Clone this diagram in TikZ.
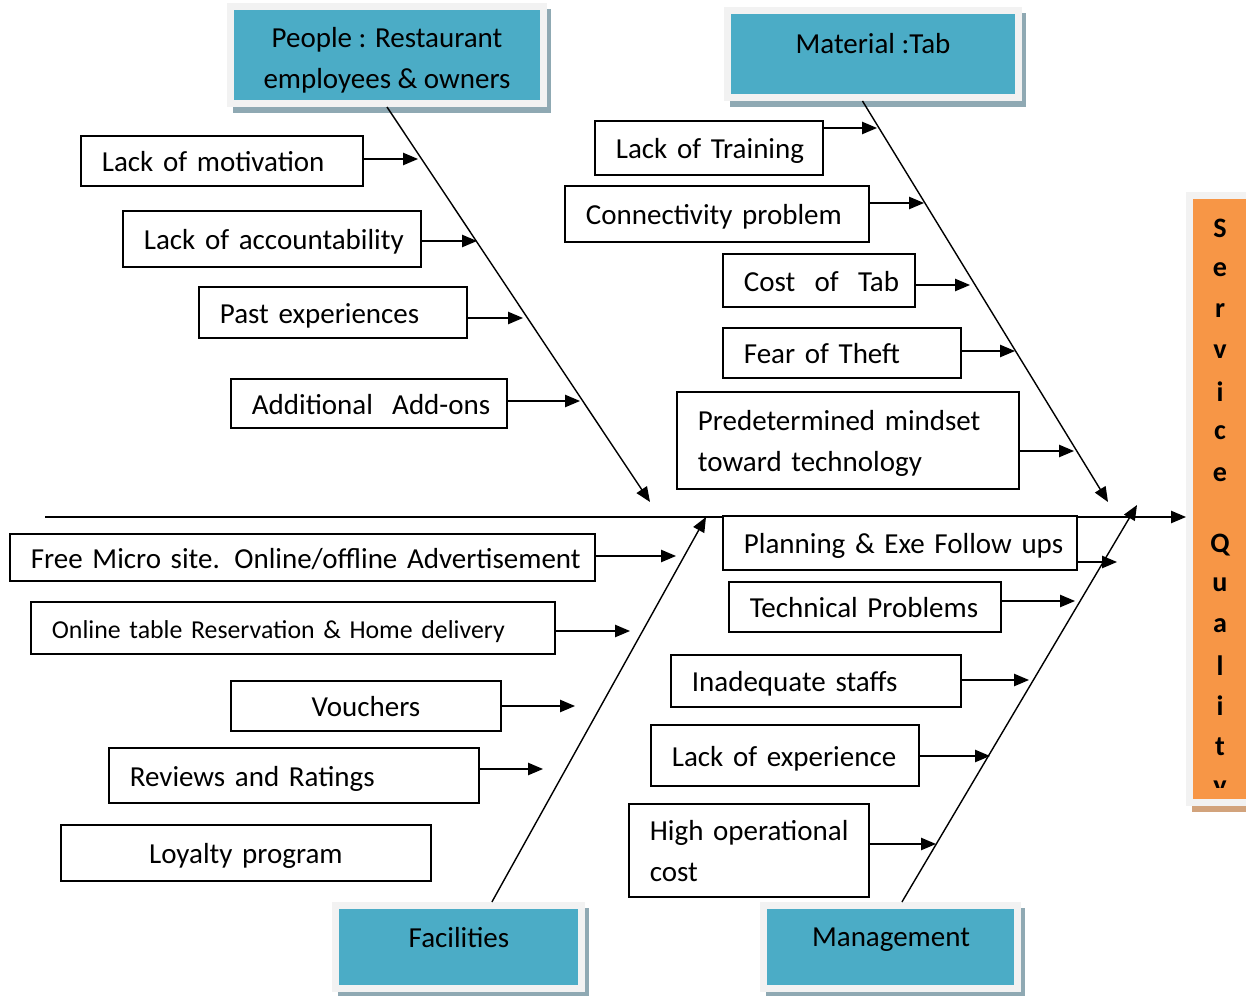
\documentclass[tikz,border=0pt]{standalone}
\usepackage{fontspec}
\setmainfont{Carlito}
\usepackage{tikz}
\usetikzlibrary{arrows.meta}
\definecolor{catblue}{HTML}{4BACC6}
\definecolor{catframe}{HTML}{F2F2F2}
\definecolor{catshadow}{HTML}{8FA9B3}
\definecolor{sqorange}{HTML}{F79646}
\definecolor{sqshadow}{HTML}{D2A37C}
\newcommand*{\causefont}{\fontsize{16.5}{23.2}\selectfont}
\newcommand*{\smallcausefont}{\fontsize{14.7}{18}\selectfont}
\newcommand*{\sqfont}{\fontsize{16}{19}\selectfont\bfseries}
\newcommand*{\ind}{\hspace*{8.5pt}}
\newcommand{\causebox}[7]{%
% name, left, top, right, bottom, options, text
  \pgfmathsetmacro{\bw}{(#4-#2)*0.569}
  \pgfmathsetmacro{\bh}{(#5-#3)*0.569}
  \pgfmathsetmacro{\tw}{(#4-#2-12)*0.569}
  \node[cause, minimum width=\bw pt, minimum height=\bh pt,
    text width=\tw pt, anchor=north west, #6] (#1) at (#2,#3) {\ind #7};
}
\newcommand{\catbox}[6]{%
% name, left, top, right, bottom, options
  \pgfmathsetmacro{\bw}{(#4-#2-7)*0.569}
  \pgfmathsetmacro{\bh}{(#5-#3-7)*0.569}
  \fill[catshadow] (#2+6,#3+6) rectangle (#4+4,#5+6);
  \node[catbox, minimum width=\bw pt, minimum height=\bh pt, #6] (#1)
    at ({(#2+#4)/2},{(#3+#5)/2}) {};
}

\begin{document}
\begin{tikzpicture}[x=0.02cm, y=-0.02cm,
    cause/.style={draw, line width=1.1pt, fill=white, inner xsep=3.4pt,
      inner ysep=0pt, align=left, font=\causefont,
      text height=12.4pt, text depth=0pt},
    twolines/.style={text depth=23.2pt},
    catbox/.style={draw=catframe, fill=catblue, line width=4pt, inner sep=0pt},
    cattext/.style={font=\causefont, align=center},
    arr/.style={-{Triangle[length=8.5pt, width=7pt]}, line width=0.8pt}]
  \useasboundingbox (0,0) rectangle (1246,996);

  % the four bones
  \catbox{people}{227}{3}{547}{107}{}
  \catbox{material}{724}{7}{1022}{101}{}
  \catbox{facil}{332}{902}{585}{992}{}
  \catbox{manage}{760}{902}{1021}{992}{}
  \node[cattext] (peoplet) at (387,60) {People : Restaurant\\employees \& owners};
  \node[cattext] (materialt) at (873,44) {Material :Tab};
  \node[cattext] (facilt) at (459,938) {Facilities};
  \node[cattext] (managet) at (891,940) {Management};

  % head
  \fill[sqshadow] (1192,806) rectangle (1250,812);
  \node[catbox, fill=sqorange, minimum width=67*0.569pt,
    minimum height=607*0.569pt] (sq) at (1223,499) {};
  \begin{scope}
    \clip (1186,192) rectangle (1246,787);
    \foreach \ch/\y [count=\i] in {S/228,e/270,r/311,v/352,i/392,c/433,e/475,
        Q/545,u/585,a/626,l/666,i/706,t/747,y/790}
      \node[font=\sqfont] (sq-\i) at (1220,\y) {\ch};
  \end{scope}

  % spine and bones
  \coordinate (tail) at (45,517);
  \draw[arr] (tail) -- (tail -| sq.west);
  \coordinate (ptip) at (650,502);
  \coordinate (mtip) at (1108,502);
  \coordinate (ftip) at (706,517);
  \coordinate (gtip) at (1137,505);
  \draw[arr] (people.south) -- (ptip);
  \draw[arr] ([xshift=-6pt]material.south) -- (mtip);
  \draw[arr] ([xshift=19pt]facil.north) -- (ftip);
  \draw[arr] ([xshift=6.5pt]manage.north) -- (gtip);

  % causes
  \causebox{lm}{80}{135}{362}{185}{}{Lack of motivation}
  \causebox{la}{122}{210}{420}{266}{}{Lack of accountability}
  \causebox{pe}{198}{286}{466}{337}{}{Past experiences}
  \causebox{ad}{230}{378}{506}{427}{}{Additional\ \ Add-ons}
  \causebox{lt}{594}{120}{822}{174}{}{Lack of Training}
  \causebox{cp}{564}{185}{868}{241}{}{Connectivity problem}
  \causebox{ct}{722}{253}{914}{306}{}{Cost\ \ of\ \ Tab}
  \causebox{ft}{722}{327}{960}{377}{}{Fear of Theft}
  \causebox{pm}{676}{391}{1018}{488}{twolines}{Predetermined mindset\\\ind toward technology}
  \causebox{fm}{9}{533}{594}{580}{}{Free Micro site. Online/offline Advertisement}
  \causebox{ot}{30}{601}{554}{653}{font=\smallcausefont}{Online table Reservation \& Home delivery}
  \node[cause, align=center, text width=258*0.569pt, minimum height=50*0.569pt,
    anchor=north west] (vo) at (230,680) {Vouchers};
  \causebox{rr}{108}{747}{478}{802}{}{Reviews and Ratings}
  \node[cause, align=center, text width=358*0.569pt, minimum height=56*0.569pt,
    anchor=north west] (lp) at (60,824) {Loyalty program};
  \causebox{pl}{722}{515}{1076}{569}{}{Planning \& Exe Follow ups}
  \causebox{tp}{728}{581}{1000}{631}{}{Technical Problems}
  \causebox{is}{670}{654}{960}{706}{}{Inadequate staffs}
  \causebox{le}{650}{724}{918}{785}{}{Lack of experience}
  \causebox{ho}{628}{803}{868}{896}{twolines}{High operational\\\ind cost}

  \foreach \n/\x/\y in {lm/418/159, la/477/241, pe/523/318, ad/580/401,
      lt/877/128, cp/924/203, ct/970/285, ft/1015/351, pm/1074/451,
      fm/676/556, ot/630/631, vo/575/706, rr/543/769,
      pl/1117/562, tp/1075/601, is/1029/680, le/990/756, ho/936/844}{
    \coordinate (\n-tip) at (\x,\y);
    \draw[arr] (\n.east |- \n-tip) -- (\n-tip);
  }
\end{tikzpicture}
\end{document}
